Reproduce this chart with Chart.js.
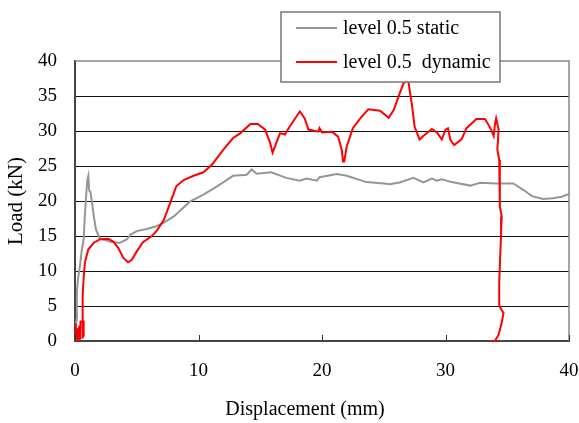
<!DOCTYPE html>
<html><head><meta charset="utf-8">
<script src="https://cdn.jsdelivr.net/npm/chart.js@4.4.0/dist/chart.umd.min.js"></script>
<style>html,body{margin:0;padding:0;background:#fff}#wrap{width:579px;height:423px}</style>
</head><body><div id="wrap"><canvas id="c" width="579" height="423"></canvas></div>
<script>
const seriesNames = ['level 0.5 static', 'level 0.5  dynamic'];
const seriesColors = ['rgb(150,150,150)', '#ff0000'];
const xTicks = [0, 10, 20, 30, 40];
const yTicks = [0, 5, 10, 15, 20, 25, 30, 35, 40];
const xTitle = 'Displacement (mm)';
const yTitle = 'Load (kN)';

const staticX = [0,0.05,0.1,0.15,0.25,0.4,0.55,0.7,0.8,0.9,1.0,1.08,1.15,1.25,1.4,1.55,1.7,2.0,2.8,3.6,4.2,4.5,5.0,5.8,6.6,7.2,8.0,9.3,10.4,11.5,12.8,13.9,14.3,14.7,15.9,17.1,18.2,18.75,19.6,19.8,21.2,22.0,23.6,25.0,25.5,25.8,26.3,27.4,28.2,28.9,29.3,29.7,30.5,32.0,32.8,34.1,35.5,36.3,37.0,37.9,38.7,39.4,40.0];
const staticY = [0,1,3,7,9,10.7,13,14.5,18,20.7,23,23.6,21.5,21.3,19.5,17.5,15.9,14.7,14.2,14.0,14.5,15.2,15.7,16.0,16.4,16.9,17.8,19.9,20.9,22.1,23.6,23.75,24.5,23.9,24.1,23.3,22.9,23.2,22.9,23.4,23.85,23.6,22.7,22.5,22.4,22.5,22.65,23.3,22.65,23.2,22.9,23.1,22.7,22.2,22.6,22.5,22.5,21.6,20.7,20.3,20.4,20.6,21.0];

const dynamicX = [0,0.05,0.1,0.2,0.25,0.35,0.4,0.45,0.7,0.7,0.6,0.62,0.7,0.8,1.08,1.5,2.0,2.7,3.1,3.5,3.9,4.3,4.6,5.0,5.5,6.2,6.6,7.2,7.7,8.2,8.8,9.6,10.4,11.1,12.0,12.8,13.4,14.2,14.8,15.4,15.8,16.0,16.6,17.0,17.3,18.2,18.6,18.9,19.7,19.8,20.0,20.8,21.3,21.6,21.7,21.8,22.0,22.5,23.1,23.75,24.7,25.4,25.8,26.3,26.6,26.9,27.0,27.3,27.5,27.9,28.2,28.9,29.3,29.7,30.0,30.2,30.4,30.7,31.3,31.7,32.5,33.2,33.7,33.9,34.0,34.1,34.3,34.2,34.35,34.4,34.4,34.55,34.5,34.35,34.35,34.7,34.55,34.3,34.0,33.5,34.55];
const dynamicY = [0,2.5,0.3,1.8,0,2.2,0.2,2.8,2.8,0.8,0.5,6.4,9,11.2,13.1,14.0,14.5,14.6,14.2,13.3,11.9,11.25,11.6,12.8,14.1,14.95,15.7,17.3,19.7,22.1,23.0,23.6,24.1,25.2,27.3,29.0,29.7,31.0,31.0,30.2,28.3,26.9,29.7,29.5,30.4,32.8,31.8,30.2,29.9,30.4,29.8,29.9,29.2,27.3,25.65,25.65,27.8,30.4,31.8,33.1,32.9,31.9,33.0,35.4,36.8,37.3,37.0,33.5,30.6,28.8,29.3,30.3,29.8,28.8,30.2,30.4,28.7,28.0,28.8,30.4,31.7,31.7,30.2,29.3,30.9,31.8,30.2,27.3,25.9,22.6,19.2,17.8,15.4,8.3,5.0,4.0,2.6,0.9,0,0,0];

const toPts = (xs, ys) => xs.map((x, i) => ({x: x, y: ys[i]}));
const FONT = 'Liberation Serif';

const decorPlugin = {
  id: 'decor',
  afterDatasetsDraw(chart) {
    const ctx = chart.ctx;
    const a = chart.chartArea;
    const xs = chart.scales.x;
    ctx.save();
    ctx.strokeStyle = '#888';
    ctx.lineWidth = 1.5;
    ctx.beginPath();
    ctx.moveTo(a.left, a.top);
    ctx.lineTo(a.right, a.top);
    ctx.lineTo(a.right, a.bottom);
    ctx.stroke();
    ctx.strokeStyle = '#333';
    ctx.lineWidth = 1;
    xTicks.forEach(v => {
      const px = Math.round(xs.getPixelForValue(v)) + 0.5;
      ctx.beginPath();
      ctx.moveTo(px, a.bottom);
      ctx.lineTo(px, a.bottom - 6);
      ctx.stroke();
    });
    ctx.restore();
  },
  afterDraw(chart) {
    const ctx = chart.ctx;
    ctx.save();
    // x-axis title (slightly left of centre, as in the reference)
    ctx.font = '20px "' + FONT + '"';
    ctx.fillStyle = '#000';
    ctx.textAlign = 'center';
    ctx.textBaseline = 'middle';
    ctx.fillText(xTitle, 305, 410);
    // legend
    ctx.textAlign = 'left';
    const bx = 281, by = 12, bw = 219, bh = 70;
    ctx.fillStyle = '#fff';
    ctx.fillRect(bx, by, bw, bh);
    ctx.strokeStyle = '#777';
    ctx.lineWidth = 1.5;
    ctx.strokeRect(bx, by, bw, bh);
    ctx.fillStyle = '#000';
    const rows = [28, 62];
    chart.data.datasets.forEach((ds, i) => {
      ctx.strokeStyle = ds.borderColor;
      ctx.lineWidth = 2;
      ctx.beginPath();
      ctx.moveTo(296, rows[i]);
      ctx.lineTo(337, rows[i]);
      ctx.stroke();
      ctx.fillText(ds.label, 343, rows[i] + 1);
    });
    ctx.restore();
  }
};

new Chart(document.getElementById('c'), {
  type: 'scatter',
  data: {
    datasets: [
      {label: seriesNames[0], data: toPts(staticX, staticY), borderColor: seriesColors[0], backgroundColor: seriesColors[0], showLine: true, borderWidth: 2, pointRadius: 0, tension: 0, order: 2},
      {label: seriesNames[1], data: toPts(dynamicX, dynamicY), borderColor: seriesColors[1], backgroundColor: seriesColors[1], showLine: true, borderWidth: 2, pointRadius: 0, tension: 0, order: 1}
    ]
  },
  options: {
    responsive: false,
    animation: false,
    devicePixelRatio: 1,
    layout: {padding: {left: 0, right: 10, top: 61, bottom: 0}},
    plugins: {legend: {display: false}, tooltip: {enabled: false}},
    scales: {
      x: {
        type: 'linear', min: 0, max: 40,
        afterFit: s => { s.height = 82; s.paddingLeft = 0; s.paddingRight = 0; },
        afterBuildTicks: s => { s.ticks = xTicks.map(v => ({value: v})); },
        ticks: {color: '#000', font: {family: FONT, size: 19}, padding: 19},
        grid: {display: false, drawTicks: false},
        border: {display: true, color: '#444', width: 2},
        title: {display: false, text: xTitle}
      },
      y: {
        type: 'linear', min: 0, max: 40,
        afterFit: s => { s.width = 75; s.paddingTop = 0; s.paddingBottom = 0; },
        afterBuildTicks: s => { s.ticks = yTicks.map(v => ({value: v})); },
        ticks: {color: '#000', font: {family: FONT, size: 19}, padding: 18},
        grid: {drawTicks: false, lineWidth: 1, color: c => (c.tick && (c.tick.value === 0 || c.tick.value === 40)) ? 'rgba(0,0,0,0)' : '#111'},
        border: {display: true, color: '#444', width: 2},
        title: {display: true, text: yTitle, color: '#000', font: {family: FONT, size: 21}, padding: {top: 4, bottom: 0}}
      }
    }
  },
  plugins: [decorPlugin]
});
</script>
</body></html>
